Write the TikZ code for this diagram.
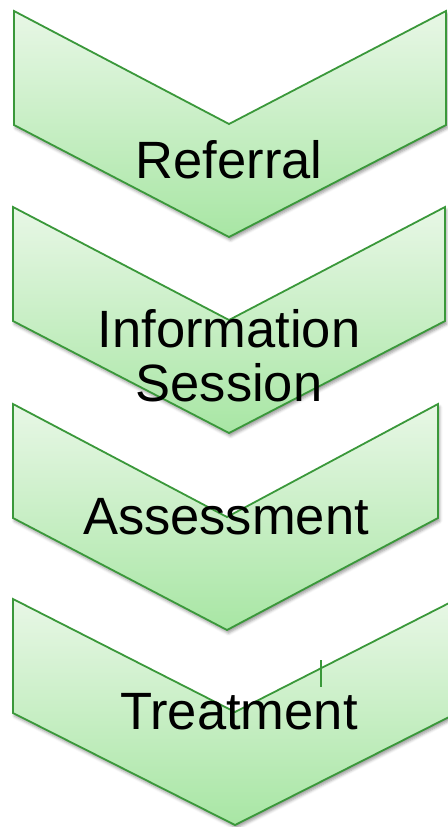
\documentclass[tikz,border=0pt]{standalone}
\usepackage{fontspec}
\setmainfont{Liberation Sans}
\usetikzlibrary{shadows.blur}

\definecolor{edgegreen}{RGB}{58,152,58}
\definecolor{lightgreen}{RGB}{232,247,230}
\definecolor{tipgreen}{RGB}{168,230,164}

\tikzset{
  chev/.style={draw=edgegreen, line width=1.8bp, line join=miter,
    top color=lightgreen, bottom color=tipgreen,
    blur shadow={shadow xshift=1.5bp, shadow yshift=-3bp,
      shadow blur radius=3bp, shadow opacity=40}},
  steplabel/.style={inner sep=0pt, align=center,
    font=\fontsize{52.5bp}{54bp}\selectfont}
}

\begin{document}
\begin{tikzpicture}[x=1bp, y=-1bp]
  \useasboundingbox (0,0) rectangle (448,827);
  \clip (0,0) rectangle (448,827);

  % left/right/top/middle of each chevron
  \foreach \l/\r/\t/\m in {14/446/11/229, 13/445/207/229, 13/438/404/227, 13/457/599/235}
    \path[chev] (\l,\t) -- (\m,\t+113) -- (\r,\t) -- (\r,\t+114)
      -- (\m,\t+226) -- (\l,\t+114) -- cycle;

  \draw[edgegreen, line width=1.8bp] (321,660) -- (321,687);

  \node[steplabel, anchor=base] (referral) at (229,178) {Referral};
  \node[steplabel] (info) at (229,356) {Information\\Session};
  \node[steplabel, anchor=base] (assess) at (226,534) {Assessment};
  \node[steplabel, anchor=base] (treat) at (239,729) {Treatment};
\end{tikzpicture}
\end{document}
